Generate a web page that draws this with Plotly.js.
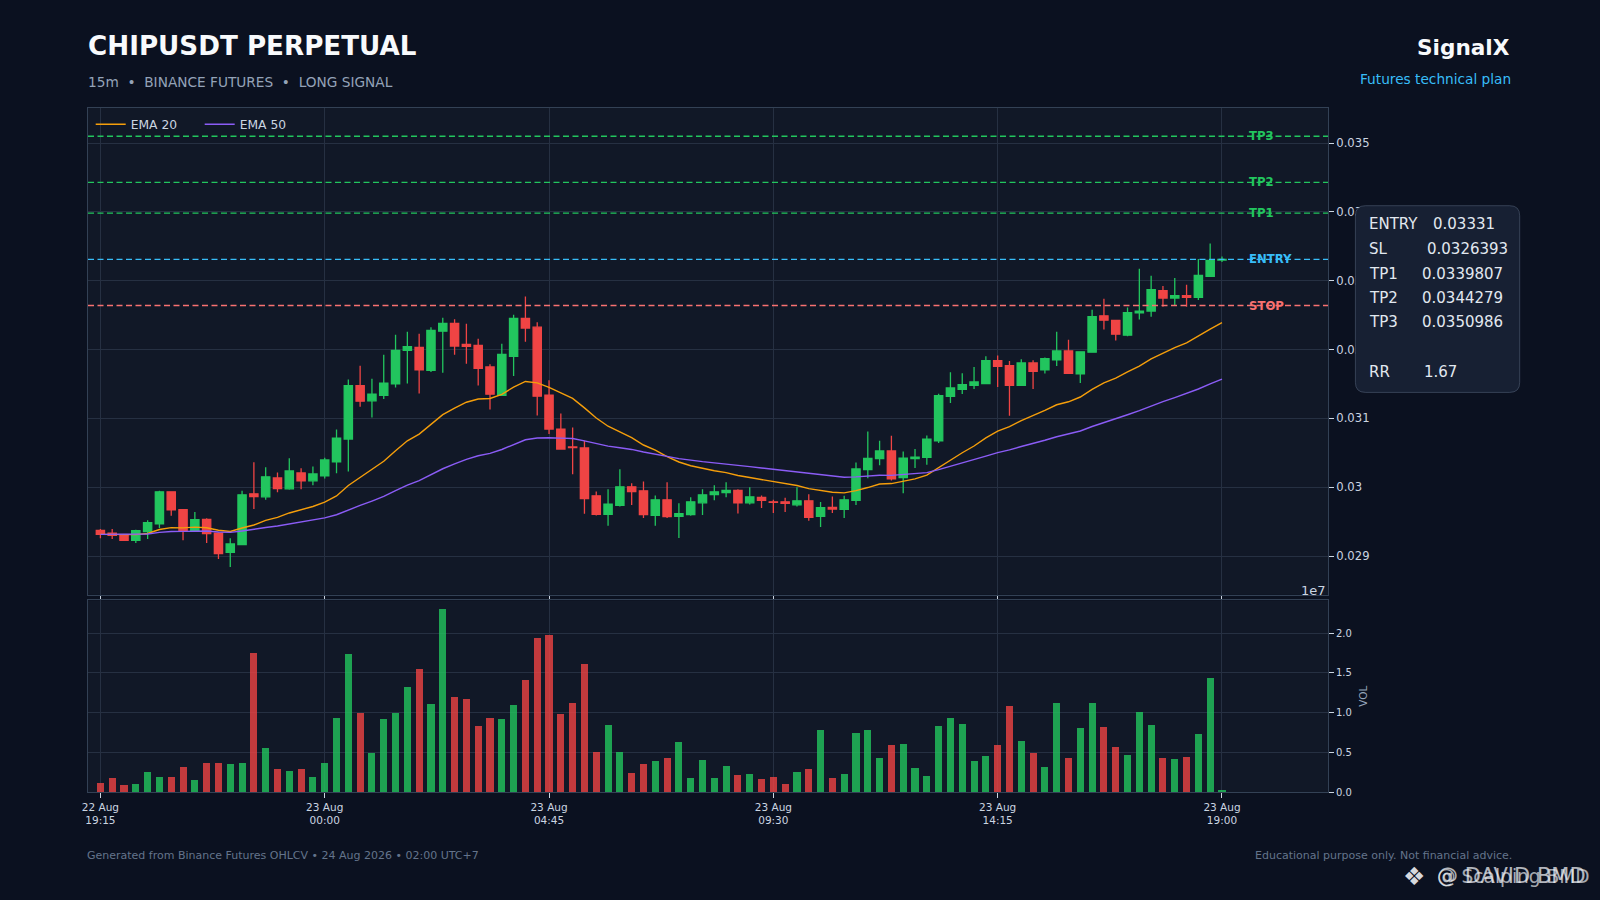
<!DOCTYPE html>
<html>
<head>
<meta charset="utf-8">
<script src="https://cdn.plot.ly/plotly-3.0.1.min.js"></script>
<style>
  html, body { margin: 0; padding: 0; background: #0b1120; }
  #chart { width: 1600px; height: 900px; }
</style>
</head>
<body>
<div id="chart"></div>
<script>
// ---------- DATA ----------
const startTimeUTC = Date.UTC(2026, 7, 22, 19, 15); // 22 Aug 19:15, 15m candles
const intervalMinutes = 15;

const open = [
  0.029373,0.029334,0.029305,0.029228,0.029354,0.029469,0.029932,0.029672,0.029373,0.029532,
  0.029334,0.029054,0.029165,0.029904,0.029860,0.030135,0.029976,0.030207,0.030092,0.030164,
  0.030367,0.030700,0.031476,0.031254,0.031336,0.031500,0.031987,0.032031,0.031698,0.032267,
  0.032378,0.032074,0.032060,0.031746,0.031336,0.031901,0.032451,0.032325,0.031336,0.030844,
  0.030584,0.030569,0.029875,0.029604,0.029735,0.030005,0.029947,0.029590,0.029817,0.029575,
  0.029600,0.029773,0.029894,0.029923,0.029952,0.029773,0.029850,0.029788,0.029788,0.029744,
  0.029802,0.029575,0.029706,0.029677,0.029807,0.030256,0.030415,0.030526,0.030141,0.030417,
  0.030432,0.030675,0.031320,0.031422,0.031481,0.031505,0.031840,0.031767,0.031481,0.031806,
  0.031704,0.031849,0.031980,0.031646,0.031961,0.032490,0.032422,0.032209,0.032534,0.032558,
  0.032854,0.032747,0.032781,0.032757,0.033063,0.033300
];
const high = [
  0.029392,0.029392,0.029310,0.029383,0.029518,0.029947,0.029935,0.029682,0.029638,0.029547,
  0.029344,0.029257,0.029947,0.030362,0.030289,0.030212,0.030420,0.030275,0.030299,0.030429,
  0.030839,0.031563,0.031766,0.031577,0.031925,0.032214,0.032258,0.032229,0.032325,0.032460,
  0.032441,0.032373,0.032156,0.031785,0.032084,0.032504,0.032769,0.032398,0.031553,0.031071,
  0.030868,0.030675,0.029937,0.029971,0.030260,0.030058,0.030082,0.029879,0.030072,0.029768,
  0.029855,0.029971,0.030029,0.030072,0.029971,0.030000,0.029879,0.029817,0.029846,0.030000,
  0.029899,0.029783,0.029865,0.029875,0.030357,0.030810,0.030675,0.030748,0.030520,0.030553,
  0.030752,0.031359,0.031670,0.031655,0.031747,0.031903,0.031912,0.031835,0.031859,0.031845,
  0.031883,0.032257,0.032141,0.031966,0.032577,0.032738,0.032422,0.032611,0.033175,0.033073,
  0.032922,0.033039,0.032942,0.033315,0.033539,0.033350
];
const low = [
  0.029257,0.029247,0.029225,0.029190,0.029247,0.029407,0.029585,0.029228,0.029358,0.029190,
  0.028958,0.028842,0.029165,0.029682,0.029817,0.029928,0.029961,0.029971,0.030029,0.030125,
  0.030203,0.030227,0.031167,0.031013,0.031283,0.031447,0.031505,0.031360,0.031674,0.031664,
  0.031925,0.031795,0.031476,0.031129,0.031336,0.031616,0.032113,0.031042,0.030772,0.030550,
  0.030188,0.029614,0.029590,0.029440,0.029720,0.029740,0.029551,0.029440,0.029551,0.029262,
  0.029585,0.029595,0.029812,0.029855,0.029619,0.029749,0.029696,0.029624,0.029638,0.029720,
  0.029513,0.029421,0.029624,0.029551,0.029740,0.030130,0.030318,0.030096,0.029913,0.030277,
  0.030325,0.030641,0.031223,0.031354,0.031427,0.031505,0.031456,0.031039,0.031481,0.031427,
  0.031650,0.031762,0.031646,0.031514,0.031961,0.032291,0.032131,0.032194,0.032437,0.032476,
  0.032621,0.032631,0.032621,0.032718,0.033063,0.033270
];
const close = [
  0.029315,0.029301,0.029228,0.029368,0.029484,0.029932,0.029672,0.029373,0.029527,0.029325,
  0.029035,0.029175,0.029889,0.029865,0.030150,0.029981,0.030236,0.030092,0.030193,0.030396,
  0.030714,0.031476,0.031249,0.031351,0.031510,0.031987,0.032041,0.031703,0.032277,0.032378,
  0.032050,0.032045,0.031727,0.031351,0.031930,0.032451,0.032311,0.031322,0.030844,0.030555,
  0.030574,0.029836,0.029604,0.029754,0.030005,0.029937,0.029600,0.029817,0.029571,0.029614,
  0.029788,0.029889,0.029932,0.029952,0.029773,0.029860,0.029807,0.029778,0.029764,0.029802,
  0.029561,0.029701,0.029682,0.029817,0.030265,0.030420,0.030526,0.030121,0.030422,0.030437,
  0.030699,0.031330,0.031442,0.031490,0.031529,0.031840,0.031757,0.031481,0.031806,0.031684,
  0.031869,0.031980,0.031655,0.031966,0.032476,0.032427,0.032223,0.032534,0.032558,0.032869,
  0.032747,0.032781,0.032757,0.033077,0.033296,0.033310
];
// volume in units of 1e7 (axis offset "1e7")
const volumeE7 = [
  0.117,0.18,0.092,0.105,0.256,0.193,0.193,0.319,0.155,0.369,
  0.369,0.356,0.369,1.753,0.558,0.293,0.268,0.293,0.193,0.369,
  0.935,1.74,0.994,0.495,0.922,0.994,1.325,1.551,1.111,2.306,
  1.199,1.174,0.834,0.935,0.922,1.098,1.413,1.941,1.979,0.985,
  1.124,1.614,0.503,0.847,0.503,0.243,0.356,0.394,0.432,0.633,
  0.18,0.407,0.18,0.331,0.218,0.231,0.168,0.193,0.105,0.256,
  0.293,0.784,0.18,0.231,0.746,0.784,0.432,0.595,0.608,0.306,
  0.205,0.834,0.935,0.86,0.394,0.457,0.595,1.086,0.646,0.495,
  0.319,1.124,0.432,0.809,1.124,0.822,0.57,0.47,1.01,0.847,
  0.432,0.419,0.444,0.734,1.438,0.029
];

const levelNames  = ['TP3', 'TP2', 'TP1', 'ENTRY', 'STOP'];
const levelValues = [0.0350986, 0.0344279, 0.0339807, 0.03331, 0.0326393];

const infoLabels = ['ENTRY', 'SL', 'TP1', 'TP2', 'TP3', 'RR'];
const infoValues = ['0.03331', '0.0326393', '0.0339807', '0.0344279', '0.0350986', '1.67'];

const xTickIndex = [0, 19, 38, 57, 76, 95];
const xTickText = ['22 Aug<br>19:15', '23 Aug<br>00:00', '23 Aug<br>04:45',
                   '23 Aug<br>09:30', '23 Aug<br>14:15', '23 Aug<br>19:00'];
const priceTickVals = [0.029, 0.030, 0.031, 0.032, 0.033, 0.034, 0.035];
const priceTickText = ['0.029', '0.03', '0.031', '0.032', '0.033', '0.034', '0.035'];
const volTickVals = [0, 0.5, 1.0, 1.5, 2.0];
const volTickText = ['0.0', '0.5', '1.0', '1.5', '2.0'];

// ---------- helpers ----------
function tAt(i) {
  const d = new Date(startTimeUTC + i * intervalMinutes * 60000);
  return d.toISOString().slice(0, 19).replace('T', ' ');
}
function ema(src, span) {
  const a = 2 / (span + 1);
  const out = [src[0]];
  for (let i = 1; i < src.length; i++) out.push(a * src[i] + (1 - a) * out[i - 1]);
  return out;
}
const times = close.map((_, i) => tAt(i));
const ema20 = ema(close, 20);
const ema50 = ema(close, 50);

const GREEN = '#22c55e', RED = '#ef4444';
const volColors = close.map((c, i) => c >= open[i] ? 'rgba(34,197,94,0.8)' : 'rgba(239,68,68,0.8)');

// layout geometry (pixels)
const M = { l: 88.3, r: 271.7, t: 108.3, b: 107.7 };
const PW = 1600 - M.l - M.r, PH = 900 - M.t - M.b;
const px = x => (x - M.l) / PW;
const py = y => (900 - M.b - y) / PH;

const FONT = 'DejaVu Sans, Verdana, sans-serif';

// ---------- traces ----------
const traces = [
  {
    type: 'candlestick', x: times, open: open, high: high, low: low, close: close,
    xaxis: 'x', yaxis: 'y', showlegend: false, whiskerwidth: 0,
    increasing: { line: { color: GREEN, width: 1.3 }, fillcolor: GREEN },
    decreasing: { line: { color: RED, width: 1.3 }, fillcolor: RED },
    hoverinfo: 'skip'
  },
  {
    type: 'scatter', mode: 'lines', x: times, y: ema20, name: 'EMA 20',
    line: { color: '#f59e0b', width: 1.4 }, xaxis: 'x', yaxis: 'y'
  },
  {
    type: 'scatter', mode: 'lines', x: times, y: ema50, name: 'EMA 50',
    line: { color: '#8b5cf6', width: 1.4 }, xaxis: 'x', yaxis: 'y'
  },
  {
    type: 'bar', x: times, y: volumeE7, marker: { color: volColors, line: { width: 0 } },
    width: 0.6 * intervalMinutes * 60000, xaxis: 'x2', yaxis: 'y2', showlegend: false,
    hoverinfo: 'skip'
  }
];

// ---------- shapes ----------
const levelColors = ['#22c55e', '#22c55e', '#22c55e', '#38bdf8', '#f87171'];
const shapes = levelValues.map((v, i) => ({
  type: 'line', xref: 'paper', x0: 0, x1: 1, yref: 'y', y0: v, y1: v,
  line: { color: levelColors[i], width: 1.3, dash: '6px,3.5px' }, layer: 'above'
}));

// info box (rounded rectangle)
function roundRect(x0, y0, x1, y1, r) {
  const P = (x, y) => px(x) + ',' + py(y);
  return 'M' + P(x0 + r, y0) + ' L' + P(x1 - r, y0) + ' Q' + P(x1, y0) + ' ' + P(x1, y0 + r) +
    ' L' + P(x1, y1 - r) + ' Q' + P(x1, y1) + ' ' + P(x1 - r, y1) +
    ' L' + P(x0 + r, y1) + ' Q' + P(x0, y1) + ' ' + P(x0, y1 - r) +
    ' L' + P(x0, y0 + r) + ' Q' + P(x0, y0) + ' ' + P(x0 + r, y0) + ' Z';
}
shapes.push({
  type: 'path', xref: 'paper', yref: 'paper', path: roundRect(1355.7, 206, 1520, 392.7, 10),
  fillcolor: '#172033', line: { color: 'rgba(100,116,139,0.45)', width: 1 }, layer: 'above'
});

// ---------- annotations ----------
const ann = [];
function txt(text, x, y, size, color, xanchor, extra) {
  ann.push(Object.assign({
    text: text, xref: 'paper', yref: 'paper', x: px(x), y: py(y), xanchor: xanchor || 'left',
    yanchor: 'middle', showarrow: false, font: { family: FONT, size: size, color: color }
  }, extra || {}));
}
txt('<b>CHIPUSDT PERPETUAL</b>', 86.5, 46.5, 26.2, '#f8fafc', 'left');
txt('15m\u00a0 •\u00a0 BINANCE FUTURES\u00a0 •\u00a0 LONG SIGNAL', 86.5, 82, 13.7, '#94a3b8', 'left');
txt('<b>SignalX</b>', 1512, 47.5, 21.6, '#f8fafc', 'right');
txt('Futures technical plan', 1513, 79, 13.7, '#38bdf8', 'right');
txt('Generated from Binance Futures OHLCV • 24 Aug 2026 • 02:00 UTC+7', 86.5, 855.5, 11, '#64748b', 'left', { borderpad: 0 });
txt('Educational purpose only. Not financial advice.', 1513, 855.5, 11, '#64748b', 'right', { borderpad: 0 });
txt('1e7', 1328.5, 591, 13, '#cbd5e1', 'right');

// watermark (two overlaid handles, as in the reference)
txt('❖', 1402, 876.5, 25, 'rgba(235,238,242,0.92)', 'left', { borderpad: 0 });
txt('@ Scalping BMD', 1436, 876.5, 18.6, 'rgba(235,238,242,0.7)', 'left', { borderpad: 0 });
txt('@ DAVID BMD', 1436, 876.5, 21, 'rgba(235,238,242,0.75)', 'left', { borderpad: 0 });

// info box text
const infoY = [224, 249, 274, 298.3, 322.7, 372.3];
const infoValX = [1431.5, 1425, 1420.5, 1420.5, 1420.5, 1422.5];
infoLabels.forEach((lab, i) => {
  txt(lab, 1367, infoY[i], 15, '#e2e8f0', 'left');
  txt(infoValues[i], infoValX[i], infoY[i], 15, '#e2e8f0', 'left');
});

// level labels
levelNames.forEach((n, i) => {
  ann.push({
    text: '<b>' + n + '</b>', xref: 'x', yref: 'y', x: tAt(97.1), y: levelValues[i],
    xanchor: 'left', yanchor: 'middle', showarrow: false,
    font: { family: FONT, size: 11.7, color: levelColors[i] }
  });
});

// ---------- layout ----------
const GRID = '#263042', FRAME = '#334155', TICK = '#cbd5e1';
const xRange = [tAt(-1.05), tAt(103.98)];
const layout = {
  width: 1600, height: 900,
  margin: { l: M.l, r: M.r, t: M.t, b: M.b, pad: 0 },
  paper_bgcolor: '#0b1120', plot_bgcolor: '#111827',
  font: { family: FONT, color: TICK },
  showlegend: true,
  boxgap: 0.3, boxgroupgap: 0,
  legend: {
    x: px(91), y: py(110), xanchor: 'left', yanchor: 'top', orientation: 'h',
    bgcolor: 'rgba(0,0,0,0)', borderwidth: 0, font: { family: FONT, size: 12.3, color: '#cbd5e1' },
    itemwidth: 30, tracegroupgap: 0, entrywidth: 64, entrywidthmode: 'pixels'
  },
  xaxis: {
    type: 'date', domain: [0, 1], anchor: 'y', range: xRange,
    rangeslider: { visible: false },
    tickvals: xTickIndex.map(tAt), ticktext: xTickText, showticklabels: false,
    ticks: 'outside', ticklen: 5, tickcolor: TICK, tickwidth: 1,
    showgrid: true, gridcolor: GRID, gridwidth: 1, zeroline: false,
    showline: true, linecolor: FRAME, linewidth: 1, mirror: true
  },
  yaxis: {
    domain: [py(595), 1], anchor: 'x', side: 'right', range: [0.028438, 0.035509],
    tickvals: priceTickVals, ticktext: priceTickText,
    ticks: 'outside', ticklen: 5, tickcolor: TICK, tickwidth: 1,
    tickfont: { family: FONT, size: 11.6, color: TICK },
    showgrid: true, gridcolor: GRID, gridwidth: 1, zeroline: false,
    showline: true, linecolor: FRAME, linewidth: 1, mirror: true
  },
  xaxis2: {
    type: 'date', domain: [0, 1], anchor: 'y2', range: xRange, matches: 'x',
    rangeslider: { visible: false },
    tickvals: xTickIndex.map(tAt), ticktext: xTickText,
    ticks: 'outside', ticklen: 5, tickcolor: TICK, tickwidth: 1,
    tickfont: { family: FONT, size: 10.5, color: TICK },
    showgrid: true, gridcolor: GRID, gridwidth: 1, zeroline: false,
    showline: true, linecolor: FRAME, linewidth: 1, mirror: true
  },
  yaxis2: {
    domain: [0, py(600.7)], anchor: 'x2', side: 'right', range: [0, 2.41],
    tickvals: volTickVals, ticktext: volTickText,
    ticks: 'outside', ticklen: 5, tickcolor: TICK, tickwidth: 1,
    tickfont: { family: FONT, size: 10, color: TICK },
    title: { text: 'VOL', font: { family: FONT, size: 10.5, color: '#94a3b8' }, standoff: 8 },
    showgrid: true, gridcolor: GRID, gridwidth: 1, zeroline: false,
    showline: true, linecolor: FRAME, linewidth: 1, mirror: true
  },
  bargap: 0,
  shapes: shapes,
  annotations: ann
};

Plotly.newPlot('chart', traces, layout, { displayModeBar: false, staticPlot: true });
</script>
</body>
</html>
